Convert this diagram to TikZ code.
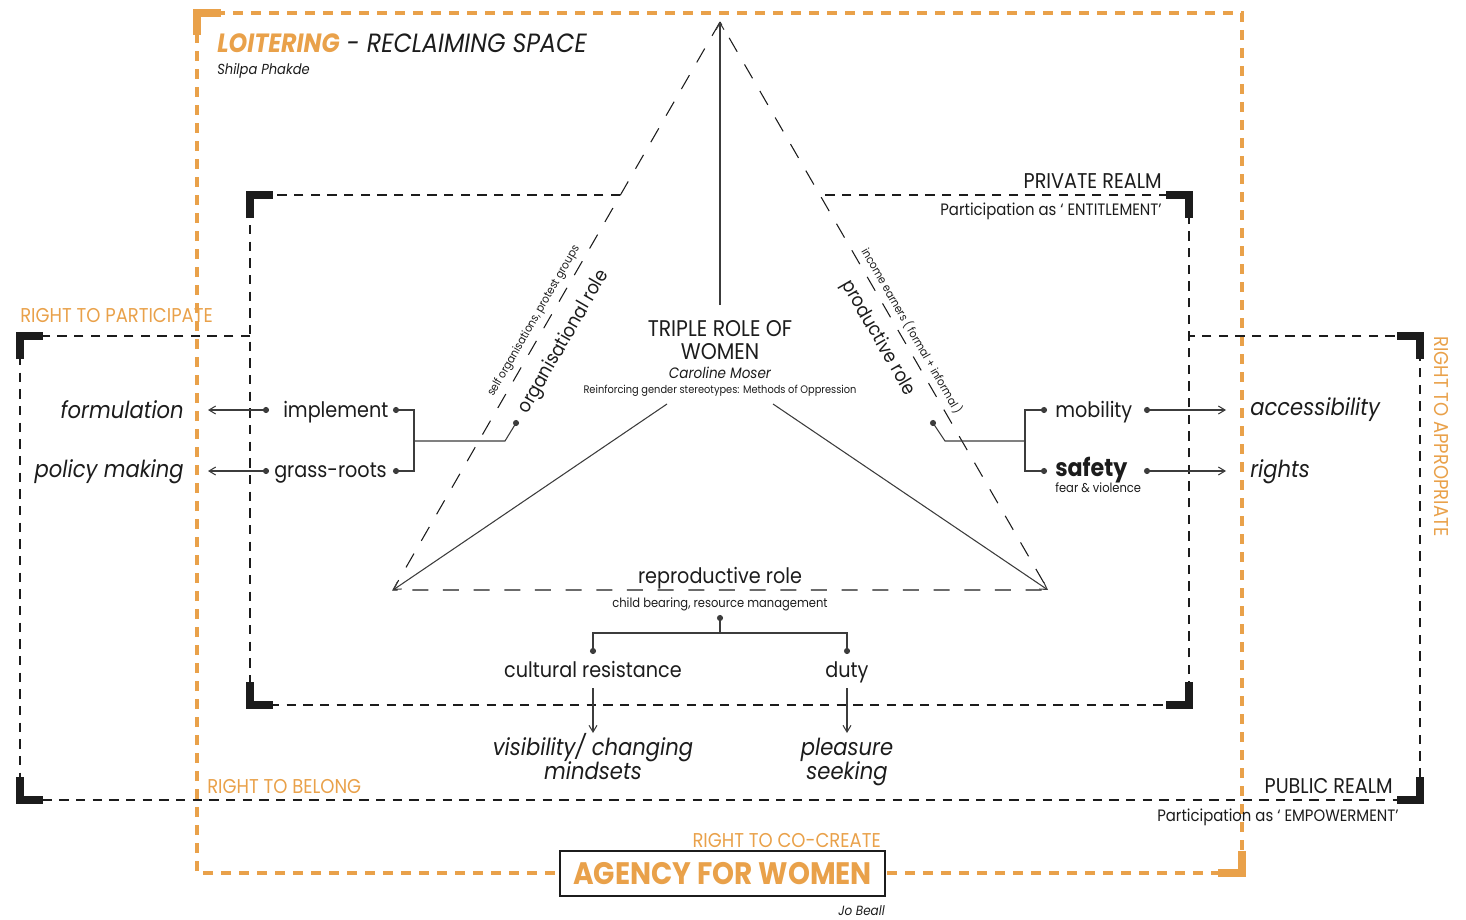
\documentclass[tikz,border=0pt]{standalone}
\usepackage{fontspec}
\setmainfont{Poppins}[FakeStretch=0.9]
\usetikzlibrary{arrows.meta}
\definecolor{org}{RGB}{233,161,74}
\definecolor{ink}{RGB}{28,28,28}
\definecolor{lnk}{RGB}{60,60,60}
\newcommand\fsz[1]{\fontsize{#1}{#1}\selectfont}
\begin{document}
\begin{tikzpicture}[x=0.75pt,y=-0.75pt,
  odash/.style={draw=org, line width=3pt, dash pattern=on 7.5pt off 6pt},
  kdash/.style={draw=ink, line width=1.1pt, dash pattern=on 7pt off 5.5pt},
  tdash/.style={draw=ink, line width=0.8pt, dash pattern=on 12pt off 11pt},
  kcorner/.style={draw=ink, line width=5.5pt, line join=miter},
  ocorner/.style={draw=org, line width=6pt, line join=miter},
  conn/.style={draw=lnk, line width=0.8pt},
  arr/.style={conn, -{Straight Barb[length=5pt,width=6pt]}},
  dotc/.style={circle, fill=lnk, inner sep=0pt, minimum size=4.6pt},
  lbl/.style={inner sep=0pt, text=ink},
  olbl/.style={inner sep=0pt, text=org, font=\fsz{15}},
  big/.style={lbl, font=\fsz{16}},
  ital/.style={lbl, font=\fsz{17.6}\itshape},
]
\useasboundingbox (0,0) rectangle (1466,920);
% ---------- orange frame
\coordinate (oTL) at (197,13); \coordinate (oTR) at (1242,13);
\coordinate (oBR) at (1242,873); \coordinate (oBL) at (197,873);
\draw[odash] (oTL) -- (oTR) -- (oBR) -- (oBL) -- cycle;
\draw[ocorner] (197,35) -- (oTL) -- (221,13);
\draw[ocorner] (1242,851) -- (oBR) -- (1218,873);
% ---------- inner (private) rectangle
\coordinate (iTL) at (250,195); \coordinate (iTR) at (1189,195);
\coordinate (iBR) at (1189,705); \coordinate (iBL) at (250,705);
\coordinate (iT1) at (620,195); \coordinate (iT2) at (820,195);
\draw[kdash] (iT1) -- (iTL) -- (iBL) -- (iBR) -- (iTR) -- (iT2);
\draw[kcorner] (250,218) -- (iTL) -- (273,195);
\draw[kcorner] (1166,195) -- (iTR) -- (1189,218);
\draw[kcorner] (250,682) -- (iBL) -- (273,705);
\draw[kcorner] (1166,705) -- (iBR) -- (1189,682);
% ---------- outer (public) rectangle
\coordinate (pTL) at (20,336); \coordinate (pTR) at (1420,336);
\coordinate (pBR) at (1420,800); \coordinate (pBL) at (20,800);
\coordinate (pT1) at (250,336); \coordinate (pT2) at (1189,336);
\draw[kdash] (pT1) -- (pTL) -- (pBL) -- (pBR) -- (pTR) -- (pT2);
\draw[kcorner] (20,359) -- (pTL) -- (43,336);
\draw[kcorner] (1397,336) -- (pTR) -- (1420,359);
\draw[kcorner] (20,777) -- (pBL) -- (43,800);
\draw[kcorner] (1397,800) -- (pBR) -- (1420,777);
% ---------- triangle
\coordinate (apex) at (720,22); \coordinate (tl) at (393,590); \coordinate (tr) at (1048,590);
\draw[tdash] (apex) -- (tl) -- (tr) -- cycle;
\coordinate (c0) at (720,305); \coordinate (cl) at (667,404); \coordinate (cr) at (773,404);
\draw[arr] (c0) -- (apex);
\draw[arr] (cl) -- (tl);
\draw[arr] (cr) -- (tr);
% ---------- centre texts
\node[lbl, anchor=base, font=\fsz{17}] (t1) at (720,336) {TRIPLE ROLE OF};
\node[lbl, anchor=base, font=\fsz{17}] (t2) at (720,359) {WOMEN};
\node[lbl, anchor=base, font=\fsz{11.3}\itshape] (t3) at (720,378) {Caroline Moser};
\node[lbl, anchor=base, font=\fsz{8.2}] (t4) at (720,393) {Reinforcing gender stereotypes: Methods of Oppression};
% ---------- side labels of the triangle
\node[lbl, rotate=60, font=\fsz{14.3}] (org1) at (564,342) {organisational role};
\node[lbl, rotate=60, font=\fsz{8.6}] (org2) at (534,321) {self organisations, protest groups};
\node[lbl, rotate=-60, font=\fsz{14.3}] (pro1) at (878,338) {productive role};
\node[lbl, rotate=-60, font=\fsz{8.6}] (pro2) at (912,331) {income earners ( formal + informal )};
% ---------- left branch
\node[dotc] (dl1) at (266,410) {}; \node[dotc] (dr1) at (396,410) {};
\node[dotc] (dl2) at (266,471) {}; \node[dotc] (dr2) at (396,471) {};
\node[dotc] (dorg) at (516,423) {};
\coordinate (al1) at (208,410); \coordinate (al2) at (208,471);
\draw[arr] (dl1) -- (al1);
\draw[arr] (dl2) -- (al2);
\coordinate (bl) at (414,441); \coordinate (bl2) at (505,441);
\draw[conn] (dr1.center) -- (414,410) -- (414,471) -- (dr2.center);
\draw[conn] (bl) -- (bl2) -- (dorg.center);
\node[big, anchor=base west] (impl) at (283,417) {implement};
\node[big, anchor=base west] (grass) at (274,477) {grass-roots};
\node[ital, anchor=base east] (form) at (184,418) {formulation};
\node[ital, anchor=base east] (policy) at (184,477) {policy making};
% ---------- right branch
\node[dotc] (dpro) at (933,423) {};
\node[dotc] (dm1) at (1044,410) {}; \node[dotc] (ds1) at (1044,471) {};
\node[dotc] (dm2) at (1147,410) {}; \node[dotc] (ds2) at (1147,471) {};
\coordinate (br0) at (945,441); \coordinate (br1) at (1025,441);
\draw[conn] (dpro.center) -- (br0) -- (br1);
\draw[conn] (dm1.center) -- (1025,410) -- (1025,471) -- (ds1.center);
\coordinate (ar1) at (1226,410); \coordinate (ar2) at (1226,471);
\draw[arr] (dm2) -- (ar1);
\draw[arr] (ds2) -- (ar2);
\node[big, anchor=base west] (mob) at (1055,417) {mobility};
\node[lbl, anchor=base west, font=\fsz{18.5}\bfseries] (safe) at (1055,476) {safety};
\node[lbl, anchor=base west, font=\fsz{9.6}] (fear) at (1055,492) {fear \& violence};
\node[ital, anchor=base west] (acc) at (1250,415) {accessibility};
\node[ital, anchor=base west] (rig) at (1250,477) {rights};
% ---------- reproductive branch
\node[big, anchor=base] (rep) at (720,583) {reproductive role};
\node[lbl, anchor=base, font=\fsz{9.6}] (child) at (720,607) {child bearing, resource management};
\node[dotc] (drep) at (720,618) {};
\node[dotc] (dcul) at (593,651) {}; \node[dotc] (dduty) at (847,651) {};
\draw[conn] (drep.center) -- (720,633);
\draw[conn] (dcul.center) -- (593,633) -- (847,633) -- (dduty.center);
\node[big, anchor=base] (cul) at (593,677) {cultural resistance};
\node[big, anchor=base] (duty) at (847,677) {duty};
\coordinate (cA) at (593,688); \coordinate (cB) at (593,733);
\coordinate (dA) at (847,688); \coordinate (dB) at (847,733);
\draw[arr] (cA) -- (cB);
\draw[arr] (dA) -- (dB);
\node[ital, anchor=base] (vis1) at (593,755) {visibility/ changing};
\node[ital, anchor=base] (vis2) at (593,779) {mindsets};
\node[ital, anchor=base] (ple1) at (847,755) {pleasure};
\node[ital, anchor=base] (ple2) at (847,779) {seeking};
% ---------- frame texts
\node[lbl, anchor=base west, font=\fsz{19.8}\itshape] (title) at (217,53) {\textcolor{org}{\bfseries LOITERING} - RECLAIMING SPACE};
\node[lbl, anchor=base west, font=\fsz{10.9}\itshape] (auth1) at (217,75) {Shilpa Phakde};
\node[big, anchor=base east] (priv) at (1162,188) {PRIVATE REALM};
\node[lbl, anchor=base east, font=\fsz{12.4}] (ent) at (1162,215) {Participation as ‘ ENTITLEMENT’};
\node[big, anchor=base east] (pub) at (1393,793) {PUBLIC REALM};
\node[lbl, anchor=base west, font=\fsz{12.4}] (emp) at (1157,821) {Participation as ‘ EMPOWERMENT’};
\node[olbl, anchor=base west] (rpart) at (20,322) {RIGHT TO PARTICIPATE};
\node[olbl, anchor=base west] (rbel) at (207,793) {RIGHT TO BELONG};
\node[olbl, anchor=base west, rotate=-90] (rapp) at (1434,336) {RIGHT TO APPROPRIATE};
\node[olbl, anchor=base east] (rco) at (881,847) {RIGHT TO CO-CREATE};
\node[draw=ink, line width=1.1pt, fill=white, minimum width=243.75pt, minimum height=33.75pt, inner sep=0pt,
      text=org, font=\fsz{23.3}\bfseries] (agency) at (722.5,873.5) {AGENCY FOR WOMEN};
\node[lbl, anchor=base east, font=\fsz{10}\itshape] (auth2) at (885,915) {Jo Beall};
\end{tikzpicture}
\end{document}
